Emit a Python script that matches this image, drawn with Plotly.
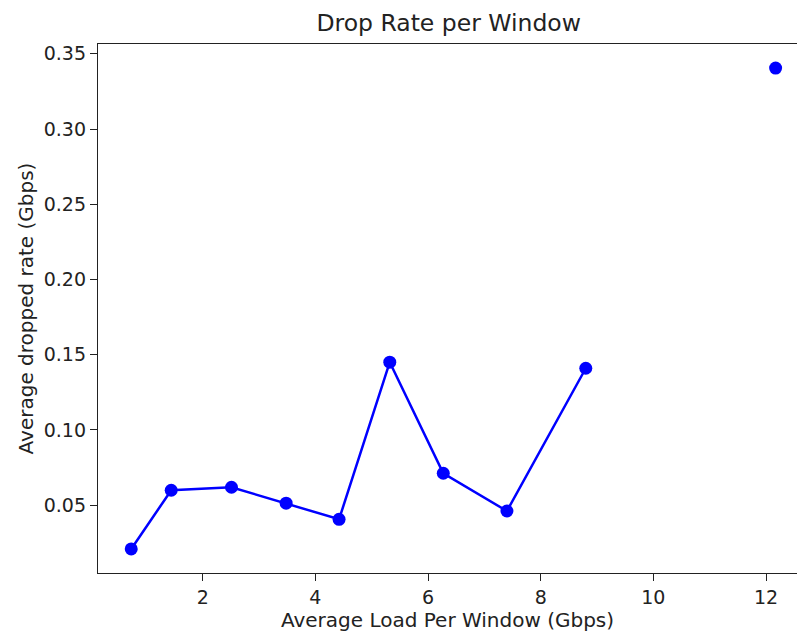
import plotly.graph_objects as go

# Data (None marks the break before the last point)
loads = [0.73, 1.44, 2.51, 3.48, 4.42, 5.32, 6.27, 7.40, 8.80, None, 12.17]
rates = [0.0209, 0.0599, 0.0619, 0.0513, 0.0406, 0.1450, 0.0712, 0.0461, 0.1410, None, 0.3405]
x_ticks = [2, 4, 6, 8, 10, 12]
y_ticks = [0.05, 0.10, 0.15, 0.20, 0.25, 0.30, 0.35]
y_tick_labels = ["0.05", "0.10", "0.15", "0.20", "0.25", "0.30", "0.35"]

FONT = "DejaVu Sans"
TXT = "#222222"

fig = go.Figure()
fig.add_trace(go.Scatter(
    x=loads, y=rates, mode="lines+markers",
    line=dict(color="#0000ff", width=2.5),
    marker=dict(color="#0000ff", size=13),
    connectgaps=False, showlegend=False,
))

axis_common = dict(
    showgrid=False, zeroline=False, showline=True, linecolor="#222222", linewidth=1.3,
    ticks="outside", ticklen=7, tickwidth=1.3, tickcolor="#222222",
    tickfont=dict(family=FONT, size=19, color=TXT),
)

fig.update_layout(
    width=797, height=637,
    margin=dict(l=98, r=0, t=44, b=64),
    paper_bgcolor="white", plot_bgcolor="white",
    font=dict(family=FONT, color=TXT),
    title=dict(text="Drop Rate per Window", x=0.563, xanchor="center",
               y=1 - 22.5 / 637, yanchor="middle", yref="container",
               font=dict(family=FONT, size=23.5, color=TXT)),
    xaxis=dict(range=[0.14, 12.55], tickvals=x_ticks, mirror=True,
               title=dict(text="Average Load Per Window (Gbps)", font=dict(family=FONT, size=20, color=TXT), standoff=5),
               **axis_common),
    yaxis=dict(range=[0.0049, 0.3565], tickvals=y_ticks, ticktext=y_tick_labels, mirror=False,
               title=dict(text="Average dropped rate (Gbps)", font=dict(family=FONT, size=20, color=TXT), standoff=4),
               **axis_common),
)

fig.write_html("out.html")
